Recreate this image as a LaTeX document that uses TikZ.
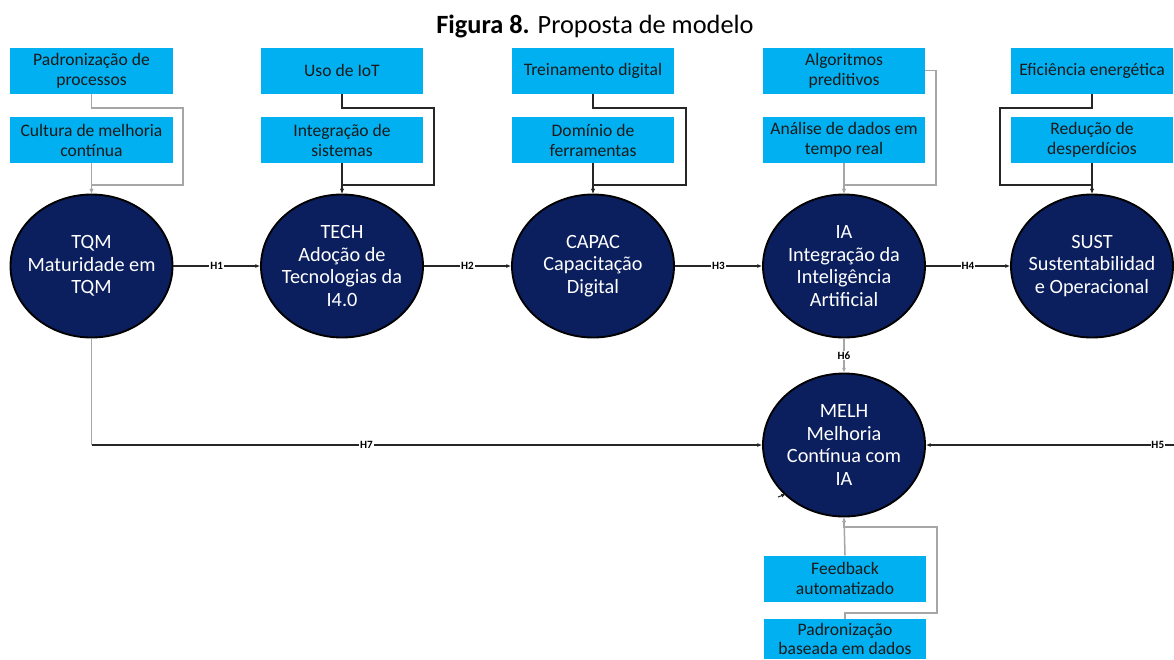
\documentclass[tikz,border=0pt]{standalone}
\usepackage{fontspec}
\setmainfont{Carlito}
\usetikzlibrary{arrows.meta,shapes.geometric}
\definecolor{boxblue}{HTML}{00B0F0}
\definecolor{navy}{HTML}{0B1F5E}
\definecolor{darkline}{HTML}{262626}
\definecolor{grayline}{HTML}{A6A6A6}
\definecolor{boxtext}{HTML}{1A1A1A}
\begin{document}
\begin{tikzpicture}[x=0.03cm,y=-0.03cm,
  box/.style={rectangle, fill=boxblue, minimum width=4.86cm, minimum height=1.38cm,
    inner sep=0pt, align=center, text=boxtext, font=\fontsize{15}{17}\selectfont},
  construct/.style={ellipse, fill=navy, draw=black, line width=1.6pt,
    minimum width=4.86cm, minimum height=4.29cm, inner sep=0pt},
  ctext/.style={inner sep=0pt, align=center, text=white, font=\fontsize{17.3}{19.2}\selectfont},
  dk/.style={draw=darkline, line width=0.9pt},
  gr/.style={draw=grayline, line width=1.3pt},
  arr/.style={-{Latex[length=4pt,width=3.5pt]}},
  hl/.style={fill=white, inner sep=0.8pt, text=black, font=\bfseries\fontsize{9.5}{10}\selectfont}]
\useasboundingbox (0,0) rectangle (1174,659);
\clip (0,0) rectangle (1174,659);

\node[font=\fontsize{22.5}{26}\selectfont] (title) at (595,26) {\textbf{Figura 8.} Proposta de modelo};

% top boxes
\node[box] (c1a) at (91.5,70.5) {Padronização de\\processos};
\node[box] (c1b) at (91.5,140) {Cultura de melhoria\\contínua};
\node[box] (c2a) at (342,70.5) {Uso de IoT};
\node[box] (c2b) at (342,140) {Integração de\\sistemas};
\node[box] (c3a) at (593,70.5) {Treinamento digital};
\node[box] (c3b) at (593,140) {Domínio de\\ferramentas};
\node[box] (c4a) at (844,70.5) {Algoritmos\\preditivos};
\node[box] (c4b) at (844,140) {Análise de dados em\\tempo real};
\node[box] (c5a) at (1092,70.5) {Eficiência energética};
\node[box] (c5b) at (1092,140) {Redução de\\desperdícios};

% constructs
\node[construct] (tqm) at (91.5,266) {};
\node[construct] (tech) at (342,266) {};
\node[construct] (capac) at (593,266) {};
\node[construct] (ia) at (844,266) {};
\node[construct] (sust) at (1092,266) {};
\node[construct] (melh) at (844,445) {};
\node[ctext] (tqmt) at (tqm) {TQM\\Maturidade em\\TQM};
\node[ctext] (techt) at (tech) {TECH\\Adoção de\\Tecnologias da\\I4.0};
\node[ctext] (capact) at (capac) {CAPAC\\Capacitação\\Digital};
\node[ctext] (iat) at (ia) {IA\\Integração da\\Inteligência\\Artificial};
\node[ctext] (sustt) at (sust) {SUST\\Sustentabilidad\\e Operacional};
\node[ctext] (melht) at (melh) {MELH\\Melhoria\\Contínua com\\IA};

% bottom boxes
\node[box] (fb) at (845,578.5) {Feedback\\automatizado};
\node[box, minimum height=1.2cm, font=\fontsize{15}{16}\selectfont] (pb) at (845,639) {Padronização\\baseada em dados};

% indicator connectors
\draw[gr,arr] (c1b.south) -- (tqm.north);
\draw[gr,arr] (c1a.south) -- (91.5,108) -- (183,108) -- (183,185) -| (tqm.north);
\draw[dk,arr] (c2b.south) -- (tech.north);
\draw[dk,arr] (c2a.south) -- (342,108) -- (434,108) -- (434,185) -| (tech.north);
\draw[dk,arr] (c3b.south) -- (capac.north);
\draw[dk,arr] (c3a.south) -- (593,108) -- (686,108) -- (686,185) -| (capac.north);
\draw[gr,arr] (c4b.south) -- (ia.north);
\draw[gr,arr] (c4a.east) -- (936,70.5) -- (936,185) -| (ia.north);
\draw[dk,arr] (c5b.south) -- (sust.north);
\draw[dk,arr] (c5a.south) -- (1092,108) -- (1000,108) -- (1000,185) -| (sust.north);
\draw[gr,arr] (fb.north) -- (melh.south);
\draw[gr,arr] (pb.north) -- (845,613) -- (937,613) -- (937,527) -| (melh.south);

% structural paths
\draw[dk,arr] (tqm.east) -- node[hl]{H1} (tech.west);
\draw[dk,arr] (tech.east) -- node[hl]{H2} (capac.west);
\draw[dk,arr] (capac.east) -- node[hl]{H3} (ia.west);
\draw[dk,arr] (ia.east) -- node[hl]{H4} (sust.west);
\draw[gr,arr] (ia.south) -- node[hl]{H6} (melh.north);
\coordinate (h7c) at (91.5,445);
\draw[gr] (tqm.south) -- (h7c);
\draw[dk,arr] (h7c) -- node[hl,pos=0.41]{H7} (melh.west);
\coordinate (h5s) at (1185,445);
\draw[dk,arr] (h5s) -- node[hl,pos=0.105]{H5} (melh.east);
\coordinate (stub) at (778,497);
\draw[dk,arr] (stub) -- ++(8,-3);
\end{tikzpicture}
\end{document}
